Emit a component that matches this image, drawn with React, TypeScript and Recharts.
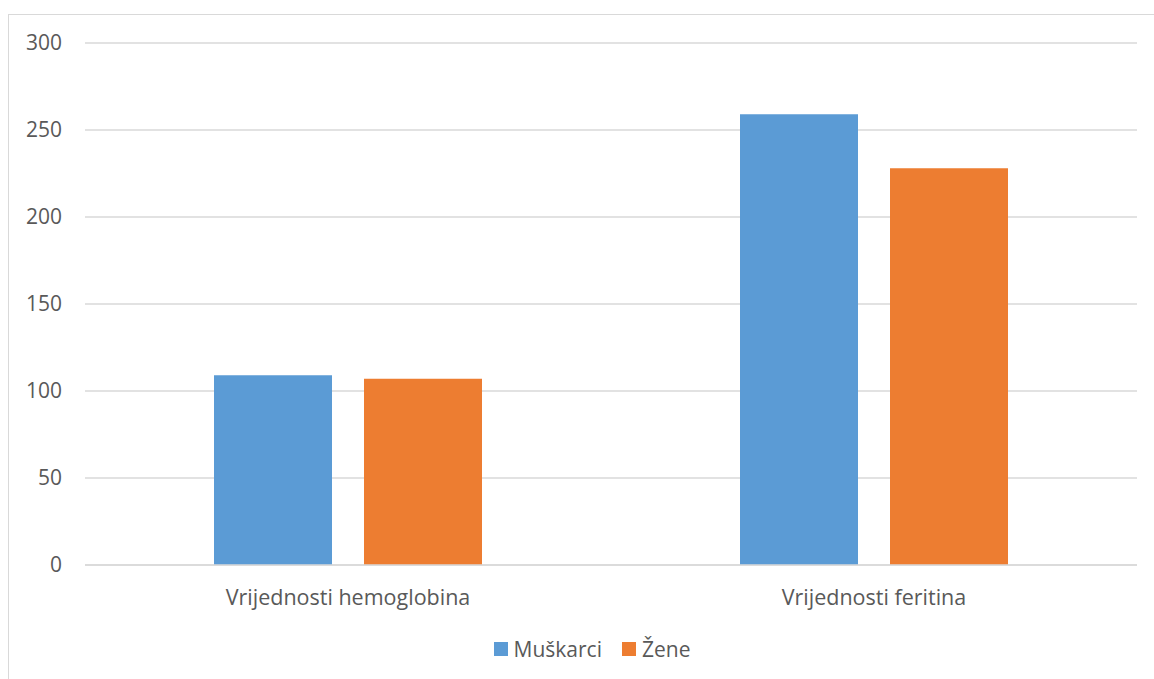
import { Bar, BarChart, CartesianGrid, Legend, XAxis, YAxis } from "recharts";

const categories = ["Vrijednosti hemoglobina", "Vrijednosti feritina"];
const muskarci = [109, 259];
const zene = [107, 228];
const yTicks = [0, 50, 100, 150, 200, 250, 300];

const data = categories.map((name, i) => ({ name, muskarci: muskarci[i], zene: zene[i] }));

const font = "'Open Sans', sans-serif";
const textColor = "#595959";

function LegendContent({ payload }: any) {
  return (
    <div style={{ display: "flex", justifyContent: "center", alignItems: "center", height: 35, paddingLeft: 38 }}>
      {(payload || []).map((p: any, i: number) => (
        <div key={i} style={{ display: "flex", alignItems: "center", marginRight: i === 0 ? 20 : 0 }}>
          <span style={{ width: 14, height: 14, background: p.color, display: "inline-block", marginRight: 6 }} />
          <span style={{ color: textColor, fontSize: 21, fontFamily: font }}>{p.value}</span>
        </div>
      ))}
    </div>
  );
}

export default function App() {
  return (
    <div style={{ position: "fixed", left: 0, top: 0, width: 1154, height: 679, overflow: "hidden", background: "#fff" }}>
      <div
        style={{
          position: "absolute",
          left: 8,
          top: 14,
          width: 1160,
          height: 680,
          borderLeft: "1px solid #d9d9d9",
          borderTop: "1px solid #d9d9d9",
          fontFamily: font
        }}
      >
        <BarChart
          width={1145}
          height={664}
          data={data}
          margin={{ top: 28, right: 17, bottom: 13, left: 0 }}
          barSize={118}
          barGap={32}
        >
          <CartesianGrid stroke="#d9d9d9" strokeWidth={1.3} vertical={false} />
          <XAxis
            dataKey="name"
            height={66}
            tickLine={false}
            axisLine={{ stroke: "#d9d9d9", strokeWidth: 1.3 }}
            tickSize={0}
            tickMargin={25}
            tick={{ fill: textColor, fontSize: 21.5, fontFamily: font }}
          />
          <YAxis
            width={76}
            domain={[0, 300]}
            ticks={yTicks}
            axisLine={false}
            tickLine={false}
            tickSize={0}
            tickMargin={23}
            tick={{ fill: textColor, fontSize: 21, fontFamily: font }}
          />
          <Legend verticalAlign="bottom" align="center" wrapperStyle={{ height: 35 }} content={<LegendContent />} />
          <Bar dataKey="muskarci" name="Muškarci" fill="#5B9BD5" isAnimationActive={false} />
          <Bar dataKey="zene" name="Žene" fill="#ED7D31" isAnimationActive={false} />
        </BarChart>
      </div>
    </div>
  );
}
